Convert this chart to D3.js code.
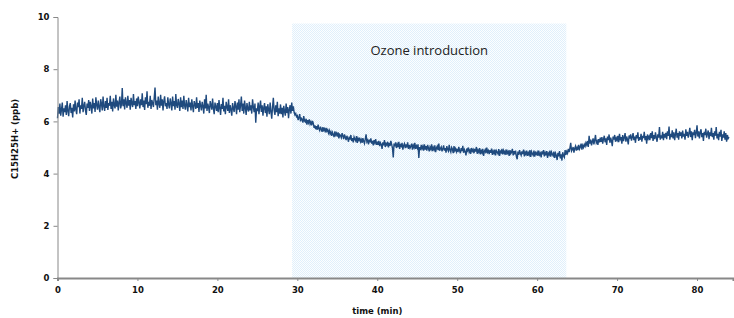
<!DOCTYPE html>
<html>
<head>
<meta charset="utf-8">
<script src="https://cdn.jsdelivr.net/npm/d3@7"></script>
<style>
  body { margin: 0; background: #fff; }
  #chart text { font-family: "DejaVu Sans", Verdana, sans-serif; }
</style>
</head>
<body>
<div id="chart"></div>
<script>
// sampled every 0.1 min starting at t = 0 (one row = 2 min)
const sampleStep = 0.1;
const concentration = [
  6.12, 6.55, 6.30, 6.68, 6.22, 6.45, 6.72, 6.18, 6.50, 6.36, 6.62, 6.25, 6.78, 6.40, 6.20, 6.58, 6.70, 6.32, 6.52, 6.15,
  6.66, 6.38, 6.80, 6.45, 6.28, 6.72, 6.55, 6.85, 6.30, 6.62, 6.48, 6.90, 6.35, 6.60, 6.75, 6.42, 6.25, 6.68, 6.52, 6.82,
  6.40, 6.75, 6.58, 6.30, 6.88, 6.50, 6.70, 6.36, 6.92, 6.62, 6.45, 6.80, 6.55, 6.35, 6.85, 6.68, 6.42, 6.95, 6.58, 6.40,
  6.78, 6.52, 6.90, 6.44, 6.70, 6.60, 6.98, 6.48, 6.75, 6.38, 6.88, 6.62, 6.50, 7.02, 6.56, 6.80, 6.42, 6.72, 6.95, 6.50,
  6.64, 7.28, 6.58, 6.85, 6.46, 6.92, 6.70, 6.52, 6.98, 6.60, 6.82, 6.45, 6.90, 6.68, 6.55, 7.05, 6.62, 6.78, 6.48, 6.88,
  6.58, 6.95, 6.72, 6.50, 6.85, 6.62, 7.08, 6.55, 6.80, 6.44, 6.92, 6.66, 7.15, 6.52, 6.75, 6.60, 6.98, 6.48, 6.82, 6.70,
  6.55, 6.90, 7.30, 6.62, 6.80, 6.45, 6.95, 6.68, 6.52, 7.02, 6.60, 6.85, 6.42, 6.78, 6.96, 6.58, 6.70, 6.48, 6.92, 6.64,
  6.50, 6.88, 6.70, 6.42, 6.95, 6.58, 6.78, 6.45, 7.05, 6.62, 6.52, 6.86, 6.68, 6.40, 6.92, 6.55, 6.80, 6.48, 6.98, 6.60,
  6.45, 6.82, 6.62, 6.38, 6.90, 6.55, 6.72, 6.42, 6.85, 6.58, 6.35, 6.78, 6.65, 6.48, 6.92, 6.52, 6.70, 6.36, 6.80, 6.60,
  6.42, 6.75, 6.58, 6.30, 6.85, 6.50, 7.02, 6.40, 6.68, 6.55, 6.32, 6.78, 6.62, 6.45, 6.88, 6.50, 6.28, 6.72, 6.58, 6.40,
  6.70, 6.35, 6.82, 6.52, 6.25, 6.66, 6.48, 6.90, 6.38, 6.60, 6.28, 6.75, 6.55, 6.40, 6.85, 6.32, 6.62, 6.45, 6.22, 6.70,
  6.50, 6.36, 6.78, 6.58, 6.28, 6.72, 6.45, 6.85, 6.35, 6.62, 6.95, 6.40, 6.68, 6.30, 6.80, 6.52, 6.25, 6.70, 6.48, 6.38,
  6.75, 6.42, 6.62, 6.30, 6.85, 6.55, 6.35, 6.68, 5.95, 6.50, 6.40, 6.72, 6.28, 6.58, 6.80, 6.36, 6.62, 6.22, 6.52, 6.70,
  6.32, 6.58, 6.18, 6.66, 6.45, 6.28, 6.72, 6.38, 6.10, 6.55, 6.90, 6.42, 6.25, 6.62, 6.35, 6.75, 6.20, 6.50, 6.30, 6.65,
  6.28, 6.52, 6.15, 6.60, 6.38, 6.22, 6.68, 6.32, 6.55, 6.12, 6.45, 6.62, 6.30, 6.72, 6.40, 6.58, 6.35, 6.25, 6.30, 6.18,
  6.22, 6.05, 6.15, 6.28, 6.00, 6.12, 6.08, 5.95, 6.20, 6.02, 5.98, 6.10, 5.88, 6.05, 5.95, 6.08, 5.90, 5.98, 5.85, 6.02,
  5.92, 5.75, 5.85, 5.70, 5.82, 5.68, 5.88, 5.72, 5.65, 5.80, 5.70, 5.60, 5.78, 5.66, 5.72, 5.58, 5.75, 5.62, 5.68, 5.55,
  5.65, 5.52, 5.60, 5.45, 5.58, 5.50, 5.40, 5.62, 5.48, 5.55, 5.42, 5.58, 5.35, 5.50, 5.46, 5.38, 5.55, 5.44, 5.32, 5.50,
  5.40, 5.28, 5.45, 5.35, 5.22, 5.42, 5.30, 5.48, 5.25, 5.36, 5.20, 5.40, 5.32, 5.26, 5.44, 5.18, 5.35, 5.28, 5.38, 5.22,
  5.30, 5.18, 5.36, 5.24, 5.15, 5.32, 5.50, 5.22, 5.28, 5.12, 5.30, 5.20, 5.35, 5.15, 5.25, 5.08, 5.28, 5.18, 5.32, 5.10,
  5.22, 5.10, 5.25, 5.05, 5.18, 5.12, 4.95, 5.20, 5.08, 5.28, 5.02, 5.15, 5.10, 5.22, 5.00, 5.18, 5.06, 5.25, 5.12, 4.98,
  4.62, 5.15, 5.05, 5.20, 4.98, 5.12, 5.02, 5.22, 4.95, 5.10, 5.05, 5.18, 4.92, 5.08, 5.15, 4.98, 5.12, 5.00, 5.20, 4.95,
  5.10, 4.98, 5.05, 5.15, 4.92, 5.08, 5.00, 5.18, 4.95, 5.06, 4.98, 5.12, 4.60, 5.02, 4.90, 5.10, 4.96, 5.05, 4.88, 5.12,
  4.92, 5.05, 4.88, 5.10, 4.98, 4.85, 5.02, 4.94, 5.12, 4.86, 5.00, 4.92, 5.08, 4.82, 4.98, 5.05, 4.90, 5.15, 4.88, 4.96,
  5.02, 4.85, 4.95, 5.08, 4.88, 4.98, 4.80, 5.05, 4.92, 4.86, 5.10, 4.90, 4.82, 5.00, 4.94, 4.78, 5.05, 4.88, 4.96, 4.84,
  4.95, 4.82, 5.02, 4.88, 4.78, 4.98, 4.86, 5.06, 4.80, 4.92, 4.84, 4.70, 4.96, 4.88, 5.00, 4.82, 4.90, 4.76, 4.98, 4.86,
  4.92, 4.78, 4.95, 4.84, 5.02, 4.76, 4.90, 4.82, 4.98, 4.74, 4.88, 4.80, 4.95, 4.68, 4.86, 4.92, 4.78, 5.00, 4.82, 4.88,
  4.75, 4.90, 4.80, 4.96, 4.72, 4.86, 4.78, 4.92, 4.70, 4.88, 4.82, 4.76, 4.94, 4.68, 4.85, 4.80, 4.95, 4.74, 4.88, 4.78,
  4.86, 4.72, 4.92, 4.78, 4.84, 4.68, 4.90, 4.76, 4.82, 4.95, 4.70, 4.86, 4.74, 4.88, 4.66, 4.55, 4.84, 4.72, 4.90, 4.78,
  4.70, 4.85, 4.75, 4.92, 4.66, 4.82, 4.74, 4.88, 4.68, 4.80, 4.72, 4.90, 4.64, 4.84, 4.76, 4.70, 4.88, 4.65, 4.80, 4.74,
  4.82, 4.68, 4.88, 4.72, 4.78, 4.62, 4.85, 4.74, 4.90, 4.66, 4.80, 4.70, 4.86, 4.60, 4.78, 4.72, 4.88, 4.65, 4.82, 4.74,
  4.68, 4.84, 4.60, 4.78, 4.70, 4.52, 4.80, 4.66, 4.86, 4.58, 4.74, 4.50, 4.82, 4.68, 4.62, 4.90, 4.72, 4.85, 4.78, 4.95,
  4.82, 4.98, 5.18, 4.86, 4.92, 5.02, 4.80, 4.96, 5.05, 4.88, 5.00, 4.90, 5.10, 4.94, 5.02, 5.15, 4.92, 5.08, 5.00, 5.12,
  5.05, 5.18, 5.10, 5.25, 5.02, 5.45, 5.15, 5.30, 5.08, 5.22, 5.35, 5.12, 5.28, 5.48, 5.18, 5.25, 5.10, 5.32, 5.20, 5.38,
  5.22, 5.40, 5.15, 5.32, 5.45, 5.20, 5.35, 5.10, 5.42, 5.28, 5.50, 5.18, 5.38, 5.25, 5.05, 5.42, 5.30, 5.48, 5.22, 5.36,
  5.28, 5.45, 5.20, 5.52, 5.32, 5.40, 5.15, 5.48, 5.25, 5.38, 5.55, 5.22, 5.42, 5.30, 5.12, 5.46, 5.34, 5.50, 5.26, 5.40,
  5.55, 5.28, 5.42, 5.18, 5.48, 5.35, 5.58, 5.25, 5.40, 5.30, 5.52, 5.22, 5.45, 5.36, 5.60, 5.28, 5.44, 5.15, 5.50, 5.34,
  5.42, 5.28, 5.55, 5.36, 5.62, 5.25, 5.48, 5.32, 5.58, 5.40, 5.22, 5.50, 5.38, 5.78, 5.30, 5.46, 5.35, 5.60, 5.28, 5.52,
  5.38, 5.56, 5.32, 5.62, 5.45, 5.80, 5.30, 5.52, 5.40, 5.66, 5.35, 5.58, 5.28, 5.50, 5.72, 5.38, 5.55, 5.30, 5.62, 5.45,
  5.58, 5.35, 5.65, 5.42, 5.52, 5.30, 5.70, 5.45, 5.60, 5.38, 5.55, 5.75, 5.40, 5.62, 5.28, 5.58, 5.48, 5.68, 5.36, 5.55,
  5.85, 5.42, 5.62, 5.35, 5.58, 5.70, 5.40, 5.55, 5.25, 5.60, 5.48, 5.72, 5.38, 5.52, 5.65, 5.32, 5.58, 5.44, 5.75, 5.40,
  5.55, 5.30, 5.62, 5.45, 5.78, 5.35, 5.52, 5.28, 5.60, 5.42, 5.68, 5.25, 5.50, 5.38, 5.62, 5.30, 5.55, 5.22, 5.48, 5.35,
  5.40
];
const xTicks = [0, 10, 20, 30, 40, 50, 60, 70, 80];
const yTicks = [0, 2, 4, 6, 8, 10];
const ozoneWindow = [29.35, 63.65];   // start / end of ozone (min)
const ozoneTop = 9.75;
const ozoneLabel = "Ozone introduction";

const width = 734, height = 318;
const margin = { top: 17, right: 1, bottom: 40, left: 57.5 };

const svg = d3.select("#chart").append("svg")
  .attr("width", width)
  .attr("height", height);

// checkered light-blue fill like the original
const pat = svg.append("defs").append("pattern")
  .attr("id", "dots")
  .attr("width", 2).attr("height", 2)
  .attr("patternUnits", "userSpaceOnUse");
pat.append("rect").attr("width", 2).attr("height", 2).attr("fill", "#fcfeff");
pat.append("rect").attr("width", 1).attr("height", 1).attr("fill", "#e0effb");
pat.append("rect").attr("x", 1).attr("y", 1).attr("width", 1).attr("height", 1).attr("fill", "#e0effb");

const x = d3.scaleLinear()
  .domain([0, 84.5])
  .range([margin.left, width - margin.right]);

const y = d3.scaleLinear()
  .domain([0, 10])
  .range([height - margin.bottom, margin.top]);

// ozone shading
svg.append("rect")
  .attr("x", x(ozoneWindow[0]))
  .attr("y", y(ozoneTop))
  .attr("width", x(ozoneWindow[1]) - x(ozoneWindow[0]))
  .attr("height", y(0) - y(ozoneTop))
  .attr("fill", "url(#dots)");

svg.append("text")
  .attr("x", x((ozoneWindow[0] + ozoneWindow[1]) / 2))
  .attr("y", 55)
  .attr("text-anchor", "middle")
  .style("font-family", "'Open Sans', sans-serif")
  .style("font-size", "13px")
  .attr("fill", "#222")
  .text(ozoneLabel);

// signal
const line = d3.line()
  .x((d, i) => x(i * sampleStep))
  .y(d => y(d));

svg.append("path")
  .datum(concentration)
  .attr("fill", "none")
  .attr("stroke", "#1f4a7e")
  .attr("stroke-width", 1.4)
  .attr("d", line);

// axes
const yAxis = svg.append("g")
  .attr("transform", `translate(${margin.left},0)`)
  .call(d3.axisLeft(y).tickValues(yTicks).tickSize(4).tickPadding(4).tickFormat(d3.format("d")));

const xAxis = svg.append("g")
  .attr("transform", `translate(0,${y(0)})`)
  .call(d3.axisBottom(x).tickValues(xTicks).tickSize(3).tickPadding(6).tickFormat(d3.format("d")));

[yAxis, xAxis].forEach(g => {
  g.select(".domain").attr("stroke", "#888");
  g.selectAll(".tick line").attr("stroke", "#888");
  g.selectAll(".tick text")
    .attr("fill", "#111")
    .style("font-size", "8.5px")
    .style("font-weight", "bold");
});
xAxis.select(".domain").attr("stroke-width", 2);

svg.append("text")
  .attr("x", x(40))
  .attr("y", 314)
  .attr("text-anchor", "middle")
  .style("font-size", "8.5px")
  .style("font-weight", "bold")
  .attr("fill", "#111")
  .text("time (min)");

svg.append("text")
  .attr("transform", `translate(18,139) rotate(-90)`)
  .attr("text-anchor", "middle")
  .style("font-size", "8.5px")
  .style("font-weight", "bold")
  .attr("fill", "#111")
  .text("C15H25H+ (ppb)");
</script>
</body>
</html>
